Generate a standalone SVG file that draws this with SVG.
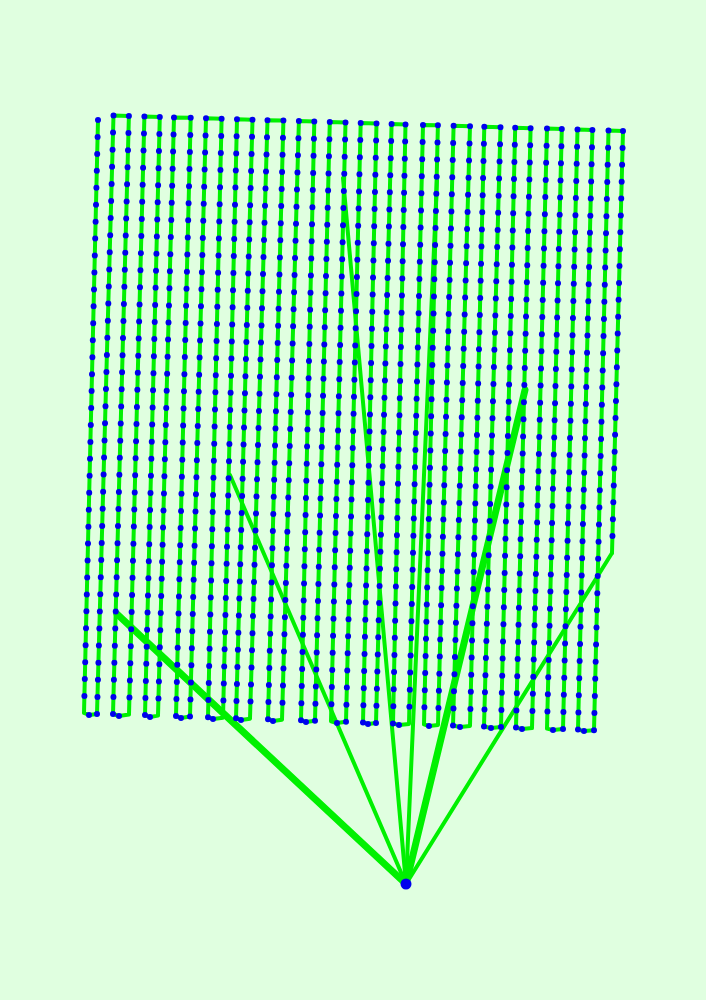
<svg xmlns="http://www.w3.org/2000/svg" width="706" height="1000" viewBox="0 0 706 1000">
<style>
.bg{fill:#e0ffe0}
.route{fill:none;stroke:#00f000;stroke-width:4;stroke-linejoin:round;stroke-linecap:round}
.leg{stroke:#00f000;stroke-width:4;stroke-linecap:round}
.leg2{stroke:#00f000;stroke-width:7;stroke-linecap:round}
.dots{fill:none;stroke:#0000ee;stroke-width:6;stroke-linecap:round;stroke-dasharray:0 1}
.pt{fill:#0000ee}
</style>
<defs>
<circle id="wp" r="3" class="pt"/>
</defs>
<rect class="bg" x="0" y="0" width="706" height="1000"/>
<g id="connectors">
<path class="route" d="M98,120 L84,713 L89,715 L97,714 L113.5,115.5 L128.9,116 L113,714 L119,716 L129,714.6 L144.4,116.4 L159.8,116.9 L145,715.1 L150,717 L158,715.6 L174,117.4 L190.7,117.8 L176,716.1 L181,718 L190,716.6 L206,118.3 L221.6,118.8 L208,717.2 L213,719 L223,717.7 L237,119.2 L252.5,119.7 L236,718.2 L241,720 L250,718.7 L267.5,120.2 L283.4,120.6 L268,719.2 L273,721 L282,719.8 L298.9,121.1 L314.3,121.6 L301,720.3 L306,722 L315,720.8 L329.8,122.1 L345.5,122.5 L331,721.3 L337,723 L346,721.8 L360.7,123 L376.5,123.5 L363,722.4 L368,724 L376,722.9 L391.6,123.9 L405.5,124.4 L393,723.4 L399,725 L409,723.9 L423,124.9 L437.9,125.3 L424,724.4 L429,726 L438,725 L453.6,125.8 L470,126.3 L453,725.5 L460,727 L470,726 L484.3,126.7 L500.5,127.2 L484,726.5 L491,728 L501,727 L515.2,127.7 L530.6,128.2 L516,727.6 L522,729 L532,728.1 L547,128.6 L561.8,129.1 L547,728.6 L553,730 L563,729.1 L577.5,129.6 L592.4,130 L578,729.6 L584,731 L594,730.2 L608.5,130.5 L623,131 L612,553"/>
<line class="leg2" x1="406" y1="884" x2="117" y2="614"/>
<line class="leg" x1="406" y1="884" x2="230" y2="475"/>
<line class="leg" x1="406" y1="884" x2="343" y2="178"/>
<line class="leg" x1="406" y1="884" x2="437" y2="180"/>
<line class="leg2" x1="406" y1="884" x2="525" y2="390"/>
<line class="leg" x1="406" y1="884" x2="612" y2="553"/>
</g>
<g id="waypoints">
<path class="dots" pathLength="35" d="M98,120 L84,713"/>
<path class="dots" pathLength="35" d="M113.5,115.5 L97,714"/>
<path class="dots" pathLength="35" d="M128.9,116 L113,714"/>
<path class="dots" pathLength="35" d="M144.4,116.4 L129,714.6"/>
<path class="dots" pathLength="35" d="M159.8,116.9 L145,715.1"/>
<path class="dots" pathLength="35" d="M174,117.4 L158,715.6"/>
<path class="dots" pathLength="35" d="M190.7,117.8 L176,716.1"/>
<path class="dots" pathLength="35" d="M206,118.3 L190,716.6"/>
<path class="dots" pathLength="35" d="M221.6,118.8 L208,717.2"/>
<path class="dots" pathLength="35" d="M237,119.2 L223,717.7"/>
<path class="dots" pathLength="35" d="M252.5,119.7 L236,718.2"/>
<path class="dots" pathLength="35" d="M267.5,120.2 L250,718.7"/>
<path class="dots" pathLength="35" d="M283.4,120.6 L268,719.2"/>
<path class="dots" pathLength="35" d="M298.9,121.1 L282,719.8"/>
<path class="dots" pathLength="35" d="M314.3,121.6 L301,720.3"/>
<path class="dots" pathLength="35" d="M329.8,122.1 L315,720.8"/>
<path class="dots" pathLength="35" d="M345.5,122.5 L331,721.3"/>
<path class="dots" pathLength="35" d="M360.7,123 L346,721.8"/>
<path class="dots" pathLength="35" d="M376.5,123.5 L363,722.4"/>
<path class="dots" pathLength="35" d="M391.6,123.9 L376,722.9"/>
<path class="dots" pathLength="35" d="M405.5,124.4 L393,723.4"/>
<path class="dots" pathLength="35" d="M423,124.9 L409,723.9"/>
<path class="dots" pathLength="35" d="M437.9,125.3 L424,724.4"/>
<path class="dots" pathLength="35" d="M453.6,125.8 L438,725"/>
<path class="dots" pathLength="35" d="M470,126.3 L453,725.5"/>
<path class="dots" pathLength="35" d="M484.3,126.7 L470,726"/>
<path class="dots" pathLength="35" d="M500.5,127.2 L484,726.5"/>
<path class="dots" pathLength="35" d="M515.2,127.7 L501,727"/>
<path class="dots" pathLength="35" d="M530.6,128.2 L516,727.6"/>
<path class="dots" pathLength="35" d="M547,128.6 L532,728.1"/>
<path class="dots" pathLength="35" d="M561.8,129.1 L547,728.6"/>
<path class="dots" pathLength="35" d="M577.5,129.6 L563,729.1"/>
<path class="dots" pathLength="35" d="M592.4,130 L578,729.6"/>
<path class="dots" pathLength="35" d="M608.5,130.5 L594,730.2"/>
<path class="dots" pathLength="25" d="M623,131 L612,553"/>
<use href="#wp" x="89" y="715"/><use href="#wp" x="119" y="716"/><use href="#wp" x="150" y="717"/>
<use href="#wp" x="181" y="718"/><use href="#wp" x="213" y="719"/><use href="#wp" x="241" y="720"/>
<use href="#wp" x="273" y="721"/><use href="#wp" x="306" y="722"/><use href="#wp" x="337" y="723"/>
<use href="#wp" x="368" y="724"/><use href="#wp" x="399" y="725"/><use href="#wp" x="429" y="726"/>
<use href="#wp" x="460" y="727"/><use href="#wp" x="491" y="728"/><use href="#wp" x="522" y="729"/>
<use href="#wp" x="553" y="730"/><use href="#wp" x="584" y="731"/>
</g>
<g id="home">
<circle class="pt" cx="406" cy="884" r="5.5"/>
</g>
</svg>
